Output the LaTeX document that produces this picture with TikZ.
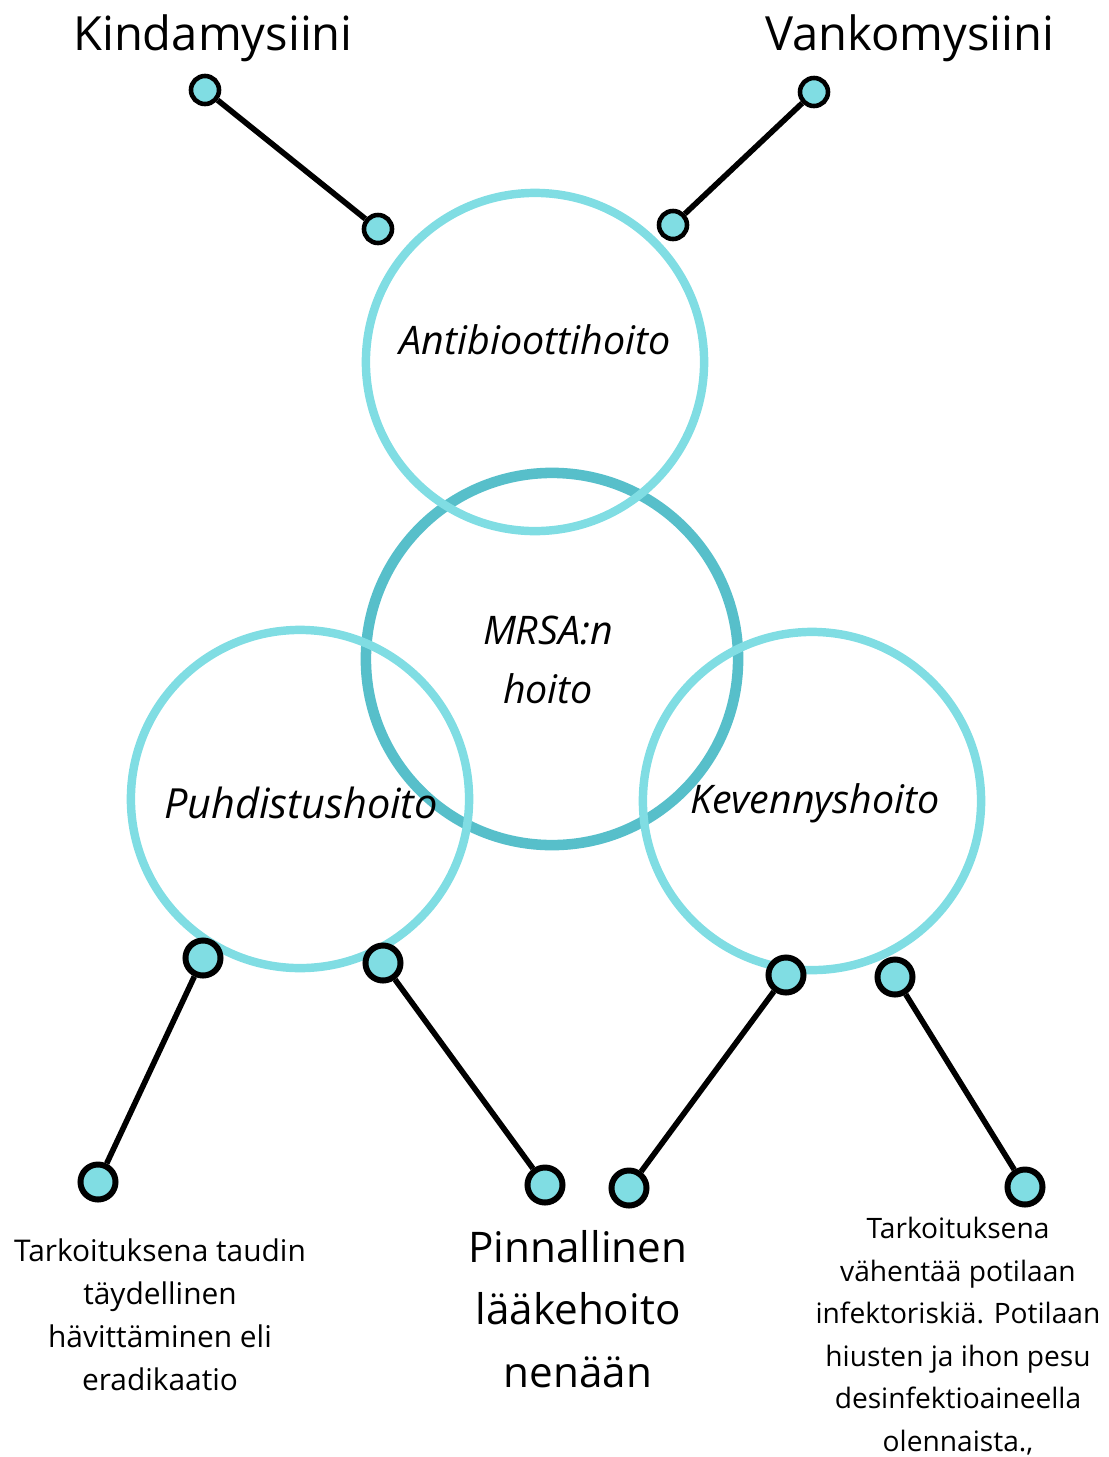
\documentclass[tikz,border=0pt]{standalone}
\usepackage{fontspec}
\setmainfont{Open Sans}
\usepackage{xcolor}
\usepackage{tikz}

\definecolor{ringlight}{HTML}{80DDE3}
\definecolor{ringdark}{HTML}{57BFCA}

\tikzset{
  ring/.style={circle,draw=ringlight,line width=2.4pt,minimum size=3.38cm,inner sep=0pt},
  mainring/.style={circle,draw=ringdark,line width=3pt,minimum size=3.72cm,inner sep=0pt},
  bigdot/.style={circle,draw=black,fill=ringlight,line width=1.7pt,minimum size=0.35cm,inner sep=0pt},
  smalldot/.style={circle,draw=black,fill=ringlight,line width=1.3pt,minimum size=0.28cm,inner sep=0pt},
  link/.style={draw=black,line width=1.6pt},
  ital/.style={font=\fontsize{11.2pt}{17pt}\selectfont\itshape,align=center},
  drug/.style={font=\fontsize{13.4pt}{16pt}\selectfont},
  note/.style={font=\fontsize{8.5pt}{12.2pt}\selectfont,align=center}
}

\begin{document}
\begin{tikzpicture}[x=0.01cm,y=-0.01cm]
\useasboundingbox (0,0) rectangle (1108,1457);

\begin{scope}
\node[mainring] (mrsa) at (552,659) {};
\node[ring] (anti) at (535,362) {};
\node[ring] (puhd) at (300,799) {};
\node[ring] (keve) at (812,801) {};
\end{scope}

\begin{scope}[every node/.style={ital}]
\node (mrsa text) at (548,660) {MRSA:n\\hoito};
\node (anti text) at (535,340) {Antibioottihoito};
\node[font=\fontsize{11.8pt}{14pt}\selectfont\itshape] (puhd text) at (301,803) {Puhdistushoito};
\node (keve text) at (815,803) {Kevennyshoito};
\end{scope}

\begin{scope}[every node/.style={smalldot}]
\node (kind top) at (205,90) {};
\node (kind low) at (378,229) {};
\node (vank top) at (814,92) {};
\node (vank low) at (673,225) {};
\end{scope}

\begin{scope}[every node/.style={bigdot}]
\node (puhd 1) at (203,958) {};
\node (puhd 2) at (98,1182) {};
\node (puhd 3) at (383,963) {};
\node (puhd 4) at (545,1185) {};
\node (keve 1) at (786,975) {};
\node (keve 2) at (629,1188) {};
\node (keve 3) at (895,977) {};
\node (keve 4) at (1025,1187) {};
\end{scope}

\begin{scope}
\path [link] (kind top) edge (kind low);
\path [link] (vank top) edge (vank low);
\path [link] (puhd 1) edge (puhd 2);
\path [link] (puhd 3) edge (puhd 4);
\path [link] (keve 1) edge (keve 2);
\path [link] (keve 3) edge (keve 4);
\end{scope}

\node[drug] (kind) at (213,38) {Kindamysiini};
\node[drug] (vank) at (910,38) {Vankomysiini};

\node[note] (eradik) at (160,1315) {Tarkoituksena taudin\\täydellinen\\hävittäminen eli\\eradikaatio};
\node[font=\fontsize{12pt}{17.8pt}\selectfont,align=center] (nena) at (578,1309) {Pinnallinen\\lääkehoito\\nenään};
\node[note,font=\fontsize{8pt}{12.1pt}\selectfont] (pesu) at (958,1336) {Tarkoituksena\\vähentää potilaan\\infektoriskiä. Potilaan\\hiusten ja ihon pesu\\desinfektioaineella\\olennaista.,};

\end{tikzpicture}
\end{document}
